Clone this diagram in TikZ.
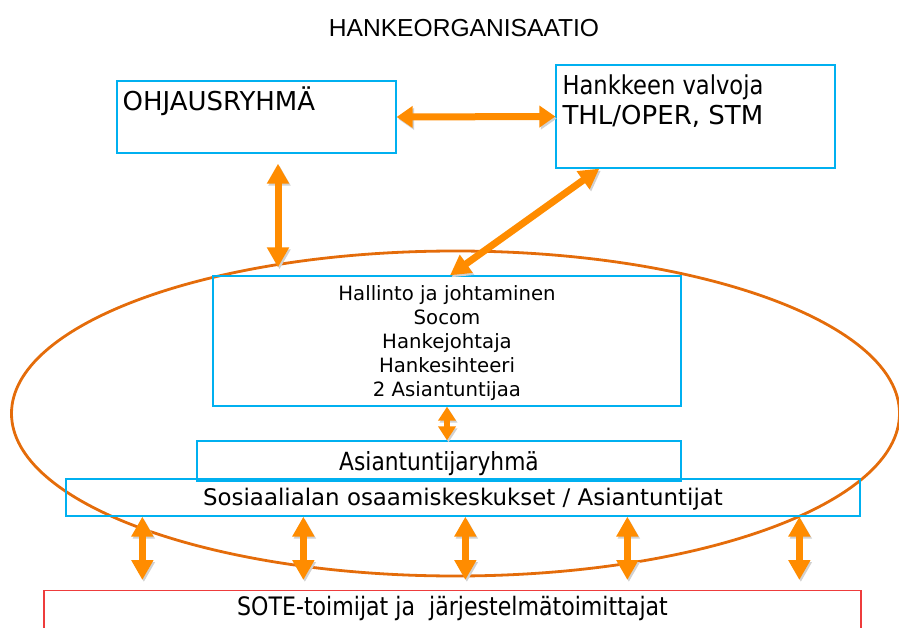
\documentclass[tikz,border=0pt]{standalone}
\usepackage{fontspec}
\usepackage{tikz}
\setmainfont{DejaVu Sans}
\newfontfamily\titlefont{Liberation Sans}
\newfontfamily\narrowfont[FakeStretch=0.87]{DejaVu Sans}
\usetikzlibrary{arrows.meta}
\usetikzlibrary{positioning}
\tikzset{box/.style = {draw=boxblue, line width=1.3pt, inner sep=0pt},
         biarrow/.style = {draw=arroworange, line width=7pt,
                           {Triangle[length=20pt, width=21pt]}-{Triangle[length=20pt, width=21pt]},
                           preaction={draw=black!18, transform canvas={shift={(1.5pt,-2pt)}}}},
         smallarrow/.style = {biarrow, line width=6pt,
                              {Triangle[length=14pt, width=17pt]}-{Triangle[length=14pt, width=17pt]}}}
\definecolor{boxblue}{RGB}{0, 176, 240}
\definecolor{arroworange}{RGB}{255, 140, 0}
\definecolor{ringorange}{RGB}{228, 108, 10}
\definecolor{sotered}{RGB}{238, 60, 60}

\begin{document}
\begin{tikzpicture}[x=1pt, y=-1pt]
    \useasboundingbox (0, 0) rectangle (899, 628);
    \clip (0, 0) rectangle (899, 628);
    \node [font=\titlefont\fontsize{24.6}{29}\selectfont] (title) at (464, 28.5) {HANKEORGANISAATIO};
    \draw [ringorange, line width=2.8pt] (455.5, 413.5) ellipse [x radius=444, y radius=162.5];
    % top row
    \node [box, minimum width=279pt, minimum height=72pt] (ohjaus) at (256.5, 117) {};
    \node [anchor=base west, inner sep=0pt, font=\fontsize{26}{31}\selectfont] (ohjaustext) at ([xshift=6pt, yshift=-29.7pt]ohjaus.north west) {OHJAUSRYHMÄ};
    \node [box, minimum width=279pt, minimum height=103pt] (valvoja) at (695.5, 116.5) {};
    \node [anchor=north west, inner sep=0pt, align=left, font=\fontsize{26}{30}\selectfont] (valvojatext) at ([xshift=7pt, yshift=-10.2pt]valvoja.north west) {{\narrowfont Hankkeen valvoja}\\THL/OPER, STM};
    % inside the ring
    \node [box, minimum width=468pt, minimum height=130pt, text depth=0pt, align=center, font=\fontsize{19.7}{23.8}\selectfont] (hallinto) at (447, 341) {Hallinto ja johtaminen\\Socom\\Hankejohtaja\\Hankesihteeri\\2 Asiantuntijaa};
    \node [box, minimum width=484pt, minimum height=40pt, text height=18pt, text depth=0pt, font=\narrowfont\fontsize{25}{30}\selectfont] (ryhma) at (439, 461) {Asiantuntijaryhmä};
    \node [box, minimum width=794pt, minimum height=37pt, text height=16.7pt, text depth=0pt, font=\fontsize{22.9}{27}\selectfont] (osaamis) at (463, 497.5) {Sosiaalialan osaamiskeskukset / Asiantuntijat};
    \node [box, draw=sotered, anchor=north, minimum width=817pt, text height=25pt, text depth=40pt, font=\narrowfont\fontsize{25.4}{30}\selectfont] (sote) at (452.5, 590) {SOTE-toimijat ja \ järjestelmätoimittajat};
    % connectors
    \draw [biarrow, {Triangle[length=16pt, width=21pt]}-{Triangle[length=16pt, width=21pt]}] (ohjaus.east) -- (valvoja.west);
    \draw [biarrow, shorten <=10pt, shorten >=8pt] ([xshift=21.5pt]ohjaus.south) -- ([xshift=21.5pt]ohjaus.south |- hallinto.north);
    \draw [biarrow] ([xshift=44pt]valvoja.south west) -- ([xshift=3pt]hallinto.north);
    \draw [smallarrow] (hallinto.south) -- (hallinto.south |- ryhma.north);
    \foreach \dx in {77, 238, 400, 562, 734}
      \draw [biarrow, shorten >=10pt] ([xshift=\dx pt]osaamis.south west) -- ([xshift=\dx pt]osaamis.south west |- sote.north);
  \end{tikzpicture}
\end{document}
